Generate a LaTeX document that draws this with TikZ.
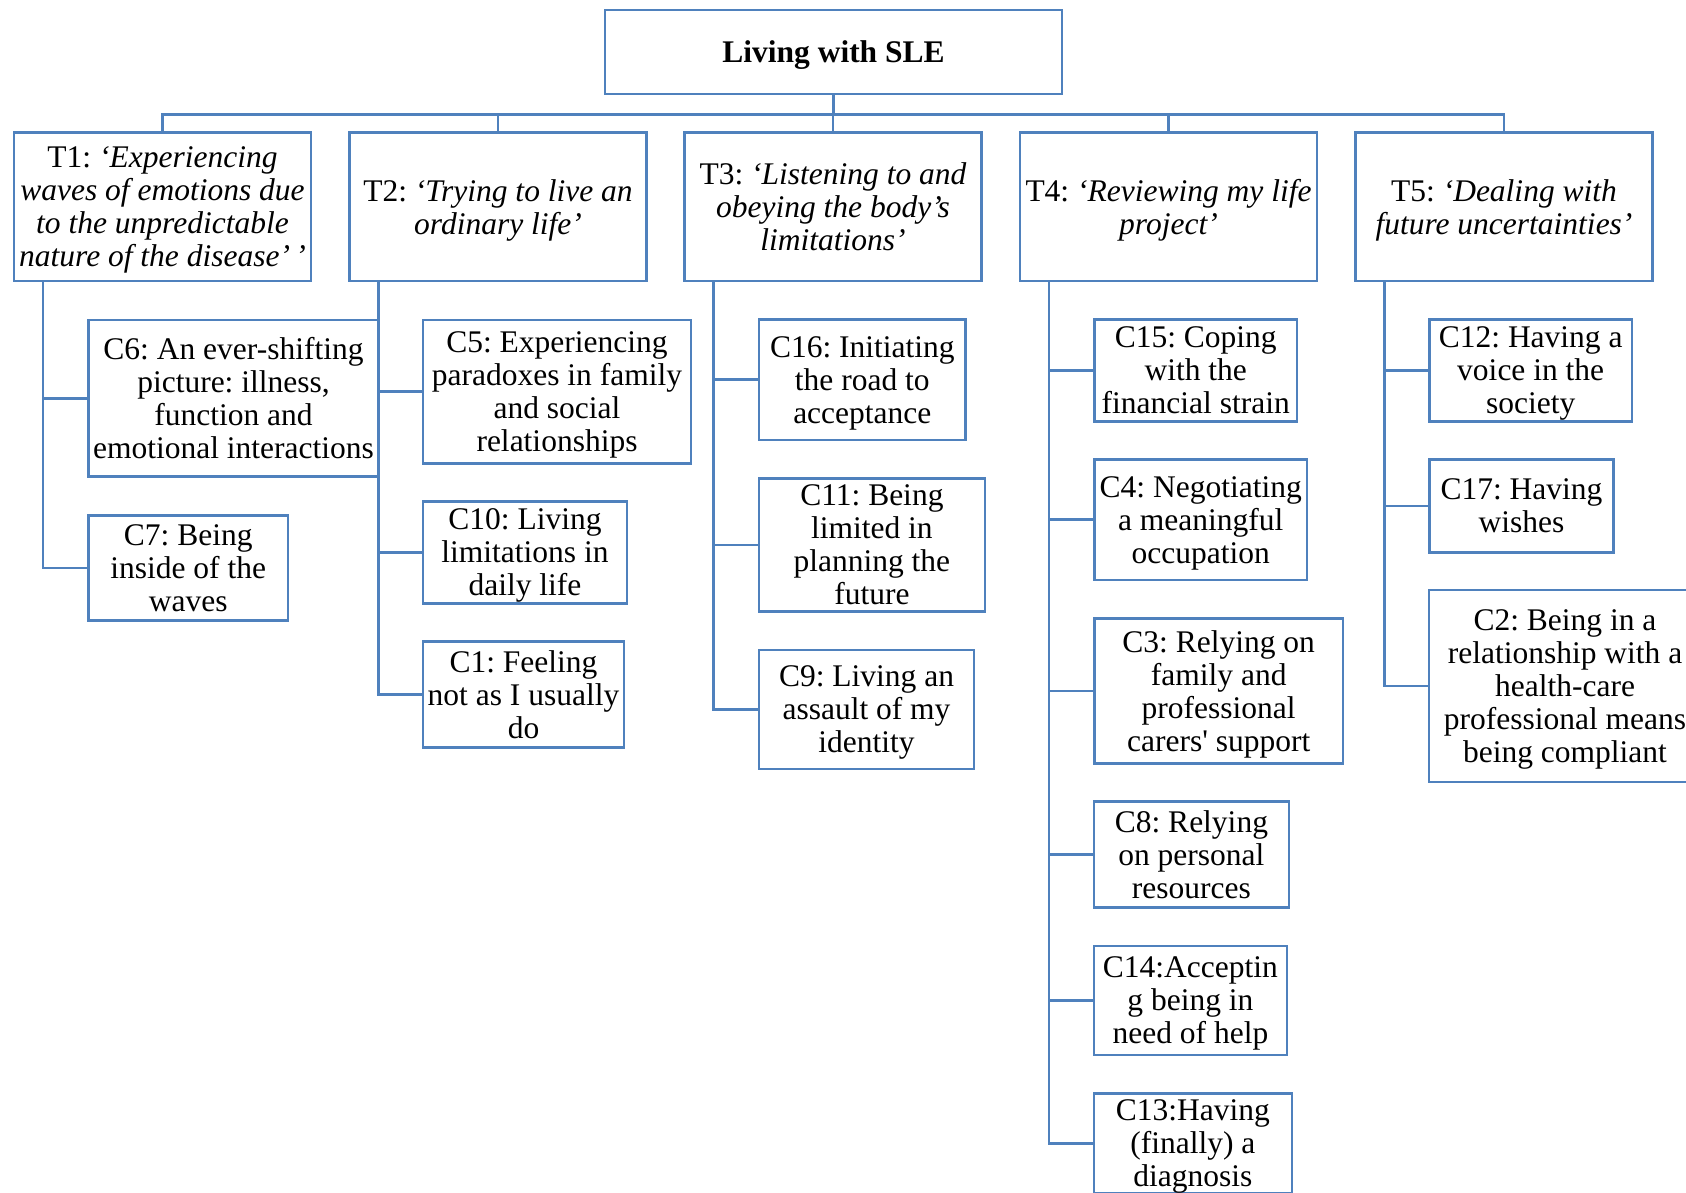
\documentclass[tikz,border=0pt]{standalone}
\usepackage{fontspec}
\setmainfont{Liberation Serif}
\definecolor{lineblue}{RGB}{79,129,189}
\frenchspacing
\begin{document}
\begin{tikzpicture}[x=1pt,y=-1pt,
  box/.style={draw=lineblue, line width=2.5pt, fill=white, align=center, inner sep=0pt,
              font=\fontsize{31.5}{33}\selectfont, text depth=0pt},
  link/.style={draw=lineblue, line width=2.5pt}]
\useasboundingbox (0,0) rectangle (1686,1192);
\clip (0,0) rectangle (1686,1192);
\fill[white] (0,0) rectangle (1686,1192);

% root
\node[box, minimum width=457pt, minimum height=84pt, font=\fontsize{31.5}{33}\selectfont\bfseries] (root) at (833.5,52) {Living with SLE};

% themes
\node[box, minimum width=297pt, minimum height=148.5pt] (t1) at (162.5,206.75)
  {T1: \textit{‘Experiencing}\\\textit{waves of emotions due}\\\textit{to the unpredictable}\\\textit{nature of the disease’\,’}};
\node[box, minimum width=297pt, minimum height=148.5pt] (t2) at (498,206.75)
  {T2: \textit{‘Trying to live an}\\\textit{ordinary life’}};
\node[box, minimum width=297pt, minimum height=148.5pt] (t3) at (833,206.75)
  {T3: \textit{‘Listening to and}\\\textit{obeying the body’s}\\\textit{limitations’}};
\node[box, minimum width=297pt, minimum height=148.5pt] (t4) at (1168.5,206.75)
  {T4: \textit{‘Reviewing my life}\\\textit{project’}};
\node[box, minimum width=297pt, minimum height=148.5pt] (t5) at (1504,206.75)
  {T5: \textit{‘Dealing with}\\\textit{future uncertainties’}};

% T1 children
\node[box, minimum width=290pt, minimum height=156.7pt] (c6) at (233.5,398.3)
  {C6: An ever-shifting\\picture: illness,\\function and\\emotional interactions};
\node[box, minimum width=199.6pt, minimum height=105pt] (c7) at (188.2,568.2)
  {C7: Being\\inside of the\\waves};

% T2 children
\node[box, minimum width=268pt, minimum height=143.3pt] (c5) at (557,391.7)
  {C5: Experiencing\\paradoxes in family\\and social\\relationships};
\node[box, minimum width=204pt, minimum height=101.6pt] (c10) at (525,552.5)
  {C10: Living\\limitations in\\daily life};
\node[box, minimum width=201pt, minimum height=106pt] (c1) at (523.5,694.7)
  {C1: Feeling\\not as I usually\\do};

% T3 children
\node[box, minimum width=206.5pt, minimum height=120.7pt] (c16) at (862.3,379.7)
  {C16: Initiating\\the road to\\acceptance};
\node[box, minimum width=225.8pt, minimum height=133.4pt] (c11) at (871.9,545)
  {C11: Being\\limited in\\planning the\\future};
\node[box, minimum width=214.9pt, minimum height=119pt] (c9) at (866.5,709.5)
  {C9: Living an\\assault of my\\identity};

% T4 children
\node[box, minimum width=202.5pt, minimum height=102.4pt] (c15) at (1195.7,370.5)
  {C15: Coping\\with the\\financial strain};
\node[box, minimum width=212.3pt, minimum height=120.7pt] (c4) at (1200.7,519.7)
  {C4: Negotiating\\a meaningful\\occupation};
\node[box, minimum width=248.3pt, minimum height=145pt] (c3) at (1218.7,690.8)
  {C3: Relying on\\family and\\professional\\carers\textquotesingle{} support};
\node[box, minimum width=194.7pt, minimum height=105.6pt] (c8) at (1191.4,854.5)
  {C8: Relying\\on personal\\resources};
\node[box, minimum width=192.7pt, minimum height=109.3pt] (c14) at (1190.4,1000.4)
  {C14:Acceptin\\g being in\\need of help};
\node[box, minimum width=197.7pt, minimum height=100pt] (c13) at (1192.9,1143.3)
  {C13:Having\\(finally) a\\diagnosis};

% T5 children
\node[box, minimum width=202.6pt, minimum height=102.4pt] (c12) at (1530.7,370.5)
  {C12: Having a\\voice in the\\society};
\node[box, minimum width=184pt, minimum height=93pt] (c17) at (1521.5,505.8)
  {C17: Having\\wishes};
\node[box, minimum width=272pt, minimum height=192pt] (c2) at (1565,686)
  {C2: Being in a\\relationship with a\\health-care\\professional means\\being compliant};

% connectors: root to themes
\foreach \t in {t1,t2,t3,t4,t5}
  \draw[link] (root.south) -- ++(0,19) -| (\t.north);

% branch coordinates
\coordinate (a1) at ([xshift=30pt]t1.south west);
\coordinate (a2) at ([xshift=30pt]t2.south west);
\coordinate (a3) at ([xshift=30pt]t3.south west);
\coordinate (a4) at ([xshift=30pt]t4.south west);
\coordinate (a5) at ([xshift=30pt]t5.south west);

\foreach \c in {c6,c7} \draw[link] (a1) |- (\c.west);
\foreach \c in {c5,c10,c1} \draw[link] (a2) |- (\c.west);
\foreach \c in {c16,c11,c9} \draw[link] (a3) |- (\c.west);
\foreach \c in {c15,c4,c3,c8,c14,c13} \draw[link] (a4) |- (\c.west);
\foreach \c in {c12,c17,c2} \draw[link] (a5) |- (\c.west);
\end{tikzpicture}
\end{document}
